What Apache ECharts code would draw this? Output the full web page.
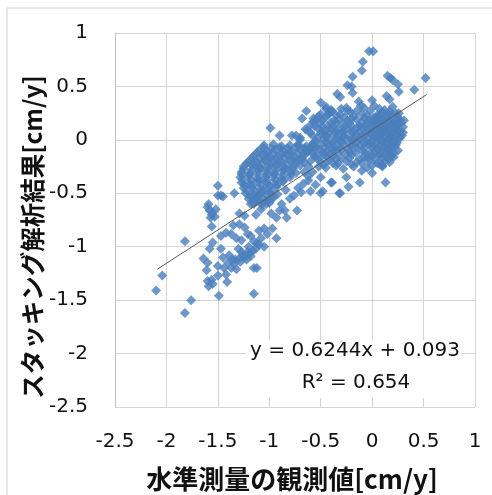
<!DOCTYPE html>
<html><head><meta charset="utf-8">
<script src="https://cdn.jsdelivr.net/npm/echarts@6/dist/echarts.min.js"></script>
<style>html,body{margin:0;padding:0;background:#fff}#c{width:492px;height:495px}</style>
</head><body><div id="c"></div>
<script>
// Axis ticks
const xTicks = [-2.5, -2, -1.5, -1, -0.5, 0, 0.5, 1];
const yTicks = [-2.5, -2, -1.5, -1, -0.5, 0, 0.5, 1];
const xTitle = '水準測量の観測値[cm/y]';
const yTitle = 'スタッキング解析結果[cm/y]';
// Regression (from the chart's label)
const slope = 0.6244, intercept = 0.093, r2 = '0.654';
const trendX = [-2.09, 0.53];

const outliers = [[-2.1,-1.41],[-2.04,-1.27],[-1.82,-0.95],[-1.76,-1.5],[-1.82,-1.62],[-1.49,-1.46],[-1.15,-1.44]];
const leftGroup = [[-1.6,-0.63],[-1.58,-0.66],[-1.56,-0.7],[-1.55,-0.68],[-1.57,-0.73],[-1.53,-0.72],[-1.56,-0.81],[-1.5,-0.43],[-1.45,-0.53],[-1.34,-0.5],[-1.52,-0.65],[-1.59,-0.6],[-1.5,-0.52],[-1.47,-0.52]];
const lowGroup = [[-1.55,-0.96],[-1.58,-1.02],[-1.47,-1.02],[-1.64,-1.11],[-1.6,-1.15],[-1.61,-1.22],[-1.6,-1.32],[-1.56,-1.31],[-1.55,-1.35],[-1.59,-1.37],[-1.42,-1.26],[-1.41,-1.33],[-1.5,-1.27],[-1.39,-1.08],[-1.36,-1.12],[-1.34,-1.16],[-1.37,-1.2],[-1.32,-1.21],[-1.29,-1.11],[-1.24,-1.1],[-1.19,-1.06],[-1.16,-1.04],[-1.15,-1.2],[-1.12,-1.2],[-1.45,-1.1],[-1.5,-1.18],[-1.3,-1.02],[-1.27,-1.05],
 [-1.33,-1.12],[-1.28,-1.14],[-1.22,-1.12],[-1.18,-1.09],[-1.13,-1.02],[-1.1,-0.98],[-1.26,-1.08],[-1.21,-1.05],[-1.4,-1.15],[-1.44,-1.2]];
const bandGroup = [[-1.42,-0.87],[-1.37,-0.88],[-1.32,-0.92],[-1.27,-0.94],[-1.29,-0.79],[-1.24,-0.82],[-1.21,-0.88],[-1.15,-0.95],[-1.12,-0.97],[-1.1,-0.85],[-1.05,-0.83],[-1.02,-0.88],[-0.97,-0.83],[-0.93,-0.92],[-1.29,-0.69],[-1.24,-0.71],[-1.47,-0.9],[-1.35,-0.8],[-1.18,-0.9],[-1.08,-0.92],[-1.2,-1.0],[-1.05,-1.0],[-1.18,-0.6],[-1.13,-0.57],[-1.1,-0.52],[-1.03,-0.6],[-0.98,-0.69],[-0.93,-0.73],[-0.9,-0.66],[-0.88,-0.6],[-0.85,-0.66],[-0.83,-0.73],[-0.73,-0.66],[-1.08,-0.65],[-1.13,-0.7]];
const midCluster = [
 [-0.99,0.11],[-0.9,0.04],[-0.78,0.04],[-0.7,0.0],[-0.8,-0.55],[-0.76,-0.52],[-0.72,-0.45],[-0.67,-0.41],[-0.62,-0.34],[-0.84,-0.47],
 [-1.05,-0.05],[-0.96,-0.04],[-0.88,-0.06],[-0.8,-0.05],[-0.72,-0.04],[-0.64,-0.06],[-0.57,-0.05],
 [-1.1,-0.1],[-1.02,-0.11],[-0.94,-0.09],[-0.86,-0.1],[-0.78,-0.11],[-0.7,-0.09],[-0.62,-0.1],
 [-1.15,-0.15],[-1.07,-0.14],[-0.99,-0.16],[-0.91,-0.15],[-0.83,-0.14],[-0.75,-0.16],[-0.67,-0.15],
 [-1.2,-0.2],[-1.12,-0.21],[-1.04,-0.19],[-0.96,-0.2],[-0.88,-0.21],[-0.8,-0.19],[-0.72,-0.2],[-0.66,-0.21],
 [-1.25,-0.25],[-1.17,-0.24],[-1.09,-0.26],[-1.01,-0.25],[-0.93,-0.24],[-0.85,-0.26],[-0.77,-0.25],[-0.7,-0.24],
 [-1.27,-0.3],[-1.19,-0.31],[-1.11,-0.29],[-1.03,-0.3],[-0.95,-0.31],[-0.87,-0.29],[-0.79,-0.3],[-0.74,-0.31],
 [-1.28,-0.35],[-1.2,-0.34],[-1.12,-0.36],[-1.04,-0.35],[-0.96,-0.34],[-0.88,-0.36],[-0.8,-0.35],
 [-1.27,-0.4],[-1.19,-0.41],[-1.11,-0.39],[-1.03,-0.4],[-0.95,-0.41],[-0.87,-0.39],
 [-1.25,-0.45],[-1.17,-0.44],[-1.09,-0.46],[-1.01,-0.45],[-0.93,-0.44],
 [-1.23,-0.5],[-1.15,-0.51],[-1.07,-0.49],[-0.99,-0.5],[-0.92,-0.51],
 [-1.2,-0.55],[-1.12,-0.54],[-1.04,-0.56],[-0.97,-0.55],
 [-1.15,-0.6],[-1.07,-0.61],[-1.0,-0.59]
];
const midCluster2 = [
 [-1.06,-0.07],[-0.98,-0.08],[-0.9,-0.07],[-0.82,-0.08],[-0.74,-0.07],[-0.66,-0.08],[-0.58,-0.07],
 [-1.12,-0.12],[-1.04,-0.13],[-0.96,-0.12],[-0.88,-0.13],[-0.8,-0.12],[-0.72,-0.13],[-0.64,-0.12],
 [-1.17,-0.17],[-1.09,-0.18],[-1.01,-0.17],[-0.93,-0.18],[-0.85,-0.17],[-0.77,-0.18],[-0.69,-0.17],
 [-1.22,-0.22],[-1.14,-0.23],[-1.06,-0.22],[-0.98,-0.23],[-0.9,-0.22],[-0.82,-0.23],[-0.74,-0.22],
 [-1.25,-0.27],[-1.17,-0.28],[-1.09,-0.27],[-1.01,-0.28],[-0.93,-0.27],[-0.85,-0.28],[-0.77,-0.27],
 [-1.27,-0.32],[-1.19,-0.33],[-1.11,-0.32],[-1.03,-0.33],[-0.95,-0.32],[-0.87,-0.33],[-0.79,-0.32],
 [-1.26,-0.37],[-1.18,-0.38],[-1.1,-0.37],[-1.02,-0.38],[-0.94,-0.37],[-0.86,-0.38],
 [-1.24,-0.42],[-1.16,-0.43],[-1.08,-0.42],[-1.0,-0.43],[-0.92,-0.42],
 [-1.22,-0.47],[-1.14,-0.48],[-1.06,-0.47],[-0.98,-0.48],
 [-1.19,-0.52],[-1.11,-0.53],[-1.03,-0.52],[-0.96,-0.53],
 [-1.16,-0.57],[-1.08,-0.58],[-1.01,-0.57]
];
const bridge = [[-0.72,-0.05],[-0.65,-0.1],[-0.6,-0.2],[-0.68,-0.18],[-0.58,-0.3],[-0.62,-0.38],[-0.55,-0.42],[-0.5,-0.35],[-0.52,-0.25],[-0.6,-0.48],[-0.48,-0.48],[-0.4,-0.4],[-0.32,-0.5],[-0.7,0.02],[-0.65,0.1],[-0.68,0.2],[-0.64,0.27],[-0.74,0.04],[-0.69,-0.49],[-0.5,-0.5],[-0.39,-0.4],[-0.31,-0.5],[-0.23,-0.44],[-0.12,-0.4],[0.13,-0.4],[0.21,-0.16],[0.17,-0.21],[-0.1,-0.29],[0.0,-0.31],[-0.25,-0.35],[0.1,-0.25],[0.25,-0.1],
 [-0.62,-0.25],[-0.56,-0.15],[-0.66,-0.3]];
const upper = [[-0.57,0.2],[-0.45,0.29],[-0.42,0.25],[-0.39,0.27],[-0.5,0.35],[-0.34,0.43],[-0.31,0.4],[-0.24,0.51],[-0.2,0.5],[-0.19,0.44],[-0.19,0.59],[-0.13,0.36],[-0.11,0.32],[0.0,0.37],[-0.1,0.65],[-0.09,0.73],[-0.03,0.83],[0.01,0.83],[0.15,0.6],[0.18,0.58],[0.2,0.56],[0.25,0.52],[0.41,0.47],[0.52,0.58],[0.26,0.45],[0.14,0.41],[0.17,0.38],[0.31,0.18],[0.26,0.25],[-0.24,0.27],[-0.2,0.2]];
const rightCluster = [
 [-0.45,0.31],[-0.3,0.29],[-0.08,0.3],[0.02,0.32],[0.12,0.28],[0.2,0.31],
 [-0.5,0.24],[-0.41,0.26],[-0.35,0.23],[-0.21,0.26],[-0.1,0.24],[-0.02,0.27],[0.05,0.23],[0.1,0.26],[0.16,0.24],[0.23,0.25],
 [-0.55,0.19],[-0.46,0.21],[-0.37,0.18],[-0.27,0.21],[-0.15,0.19],[-0.07,0.2],[0.0,0.18],[0.05,0.21],[0.1,0.19],[0.15,0.22],[0.2,0.18],[0.26,0.2],
 [-0.6,0.14],[-0.51,0.16],[-0.43,0.13],[-0.35,0.16],[-0.29,0.14],[-0.22,0.16],[-0.12,0.13],[-0.05,0.15],[0.02,0.14],[0.07,0.16],[0.13,0.13],[0.18,0.15],[0.23,0.14],[0.28,0.16],
 [-0.63,0.09],[-0.53,0.11],[-0.46,0.08],[-0.4,0.11],[-0.33,0.09],[-0.25,0.1],[-0.18,0.08],[-0.1,0.11],[-0.03,0.09],[0.03,0.1],[0.08,0.08],[0.12,0.11],[0.17,0.09],[0.22,0.1],[0.27,0.08],
 [-0.58,0.04],[-0.5,0.06],[-0.44,0.03],[-0.37,0.05],[-0.3,0.06],[-0.22,0.03],[-0.15,0.05],[-0.08,0.04],[-0.02,0.06],[0.04,0.03],[0.09,0.05],[0.14,0.06],[0.19,0.03],[0.24,0.05],[0.29,0.04],
 [-0.55,-0.01],[-0.47,0.01],[-0.4,-0.02],[-0.33,0.0],[-0.26,0.02],[-0.19,-0.01],[-0.12,0.01],[-0.05,-0.02],[0.01,0.0],[0.06,0.02],[0.11,-0.01],[0.16,0.01],[0.21,-0.02],[0.25,0.0],
 [-0.6,-0.06],[-0.5,-0.04],[-0.43,-0.05],[-0.36,-0.07],[-0.28,-0.04],[-0.2,-0.06],[-0.12,-0.05],[-0.04,-0.04],[0.02,-0.06],[0.08,-0.05],[0.13,-0.04],[0.18,-0.06],[0.23,-0.05],
 [-0.62,-0.11],[-0.52,-0.09],[-0.45,-0.12],[-0.38,-0.1],[-0.3,-0.09],[-0.22,-0.11],[-0.1,-0.1],[-0.02,-0.12],[0.05,-0.09],[0.1,-0.11],[0.16,-0.1],[0.21,-0.12],
 [-0.55,-0.16],[-0.47,-0.14],[-0.38,-0.15],[-0.3,-0.17],[-0.2,-0.14],[-0.08,-0.16],[0.0,-0.15],[0.07,-0.14],[0.14,-0.16],[0.19,-0.15],
 [-0.5,-0.21],[-0.42,-0.19],[-0.33,-0.22],[-0.25,-0.2],[-0.15,-0.21],[-0.03,-0.19],[0.05,-0.22],[0.12,-0.2],
 [-0.45,-0.26],[-0.35,-0.24],[-0.28,-0.27],[-0.18,-0.25],[-0.05,-0.26],[0.1,-0.24]
];
const rightCluster2 = [
 [-0.4,0.28],[-0.25,0.3],[-0.15,0.27],[0.07,0.29],[0.17,0.27],
 [-0.52,0.22],[-0.43,0.23],[-0.31,0.24],[-0.18,0.22],[-0.05,0.23],[0.02,0.21],[0.08,0.24],[0.13,0.21],[0.19,0.23],[0.24,0.22],
 [-0.57,0.17],[-0.48,0.18],[-0.4,0.16],[-0.32,0.19],[-0.24,0.18],[-0.1,0.17],[-0.03,0.18],[0.03,0.17],[0.08,0.18],[0.12,0.16],[0.17,0.18],[0.22,0.16],[0.27,0.18],
 [-0.56,0.13],[-0.48,0.12],[-0.38,0.13],[-0.27,0.12],[-0.2,0.13],[-0.14,0.12],[-0.07,0.13],[0.0,0.12],[0.05,0.13],[0.1,0.12],[0.15,0.13],[0.2,0.12],[0.25,0.13],[0.3,0.12],
 [-0.6,0.07],[-0.49,0.08],[-0.42,0.07],[-0.35,0.08],[-0.28,0.07],[-0.2,0.08],[-0.13,0.07],[-0.06,0.08],[0.0,0.07],[0.06,0.08],[0.1,0.07],[0.15,0.08],[0.2,0.07],[0.25,0.08],[0.3,0.07],
 [-0.53,0.02],[-0.45,0.03],[-0.35,0.02],[-0.28,0.03],[-0.18,0.02],[-0.1,0.03],[-0.04,0.02],[0.02,0.03],[0.07,0.02],[0.12,0.03],[0.17,0.02],[0.22,0.03],[0.27,0.02],
 [-0.57,-0.03],[-0.45,-0.02],[-0.38,-0.03],[-0.3,-0.02],[-0.22,-0.03],[-0.15,-0.02],[-0.08,-0.03],[-0.01,-0.02],[0.04,-0.03],[0.09,-0.02],[0.14,-0.03],[0.19,-0.02],[0.24,-0.03],
 [-0.55,-0.08],[-0.46,-0.07],[-0.4,-0.08],[-0.32,-0.07],[-0.24,-0.08],[-0.16,-0.07],[-0.08,-0.08],[0.0,-0.07],[0.05,-0.08],[0.11,-0.07],[0.15,-0.08],[0.2,-0.07],
 [-0.57,-0.13],[-0.48,-0.12],[-0.41,-0.13],[-0.34,-0.12],[-0.26,-0.13],[-0.16,-0.12],[-0.06,-0.13],[0.02,-0.12],[0.08,-0.13],[0.13,-0.12],[0.18,-0.13],
 [-0.52,-0.18],[-0.43,-0.17],[-0.35,-0.18],[-0.22,-0.17],[-0.12,-0.18],[-0.04,-0.17],[0.03,-0.18],[0.1,-0.17],[0.16,-0.18],
 [-0.47,-0.23],[-0.38,-0.22],[-0.2,-0.23],[-0.1,-0.22],[0.0,-0.24],[0.08,-0.23]
];

const points = [].concat(outliers, leftGroup, lowGroup, bandGroup, midCluster, midCluster2, bridge, upper, rightCluster, rightCluster2);
const trendData = trendX.map(x => [x, slope * x + intercept]);

const chart = echarts.init(document.getElementById('c'), null, {renderer: 'canvas'});
const tickFont = {fontFamily: 'DejaVu Sans', fontSize: 20, color: '#111'};
chart.setOption({
  animation: false,
  backgroundColor: '#fff',
  grid: {left: 115, right: 17, top: 33, bottom: 88},
  xAxis: {
    type: 'value', min: xTicks[0], max: xTicks[xTicks.length - 1], interval: 0.5,
    axisLine: {show: false}, axisTick: {show: false},
    splitLine: {show: true, lineStyle: {color: '#d4d4d4', width: 1}},
    axisLabel: Object.assign({margin: 25, formatter: v => String(v)}, tickFont)
  },
  yAxis: {
    type: 'value', min: yTicks[0], max: yTicks[yTicks.length - 1], interval: 0.5,
    axisLine: {show: true, onZero: false, lineStyle: {color: '#bfbfbf'}}, axisTick: {show: false},
    splitLine: {show: true, lineStyle: {color: '#d4d4d4', width: 1}},
    axisLabel: Object.assign({margin: 27, formatter: v => String(v)}, tickFont)
  },
  series: [
    {type: 'scatter', data: points, symbol: 'diamond', symbolSize: 10,
     itemStyle: {color: '#4a7ebd'}, z: 2},
    {type: 'line', data: trendData, symbol: 'none', lineStyle: {color: '#5a5a5a', width: 1}, z: 3}
  ],
  graphic: [
    {type: 'rect', shape: {x: 7, y: 8, width: 520, height: 520}, style: {fill: 'none', stroke: '#d0d0d0', lineWidth: 1}, z: 0},
    {type: 'rect', shape: {x: 246, y: 340, width: 216, height: 58}, style: {fill: '#fff'}, z: 10},
    {type: 'text', x: 355, y: 351, z: 11, style: {text: 'y = ' + slope + 'x + ' + intercept, font: '20px "DejaVu Sans"', fill: '#111', align: 'center', verticalAlign: 'middle'}},
    {type: 'text', x: 356, y: 383, z: 11, style: {text: 'R² = ' + r2, font: '20px "DejaVu Sans"', fill: '#111', align: 'center', verticalAlign: 'middle'}},
    {type: 'text', x: 292, y: 479, z: 11, style: {text: xTitle, font: 'bold 26px "Noto Sans CJK JP"', fill: '#111', align: 'center', verticalAlign: 'middle'}},
    {type: 'text', x: 33, y: 237, rotation: Math.PI / 2, z: 11, style: {text: yTitle, font: 'bold 24.5px "Noto Sans CJK JP"', fill: '#111', align: 'center', verticalAlign: 'middle'}}
  ]
});
</script></body></html>
